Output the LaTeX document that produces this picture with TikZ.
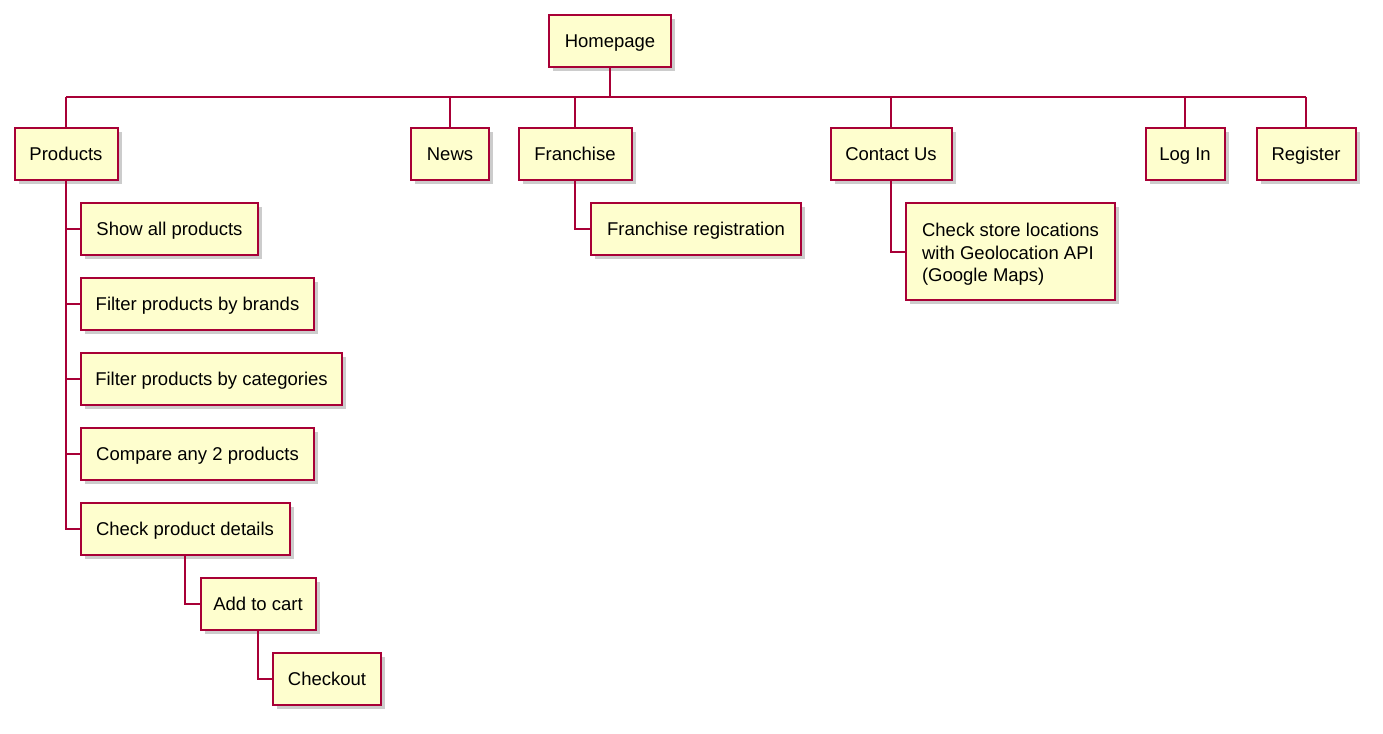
\documentclass[tikz,border=0pt]{standalone}
\usepackage{fontspec}
\setmainfont{Liberation Sans}
\usetikzlibrary{shadows}
\definecolor{boxfill}{HTML}{FEFECE}
\definecolor{boxline}{HTML}{A80036}
\definecolor{shade}{HTML}{9A9A9A}
\begin{document}
\begin{tikzpicture}[x=1pt,y=-1pt,
  wbsbox/.style={draw=boxline, fill=boxfill, line width=2pt, inner sep=0pt,
    minimum height=52pt, text height=17pt, text depth=4pt,
    font=\fontsize{18.5}{22.5}\selectfont,
    drop shadow={shadow xshift=4pt, shadow yshift=-4pt, fill=shade, opacity=0.5}},
  multibox/.style={wbsbox, align=left, text height=, text depth=},
  link/.style={draw=boxline, line width=2pt}]
\useasboundingbox (0,0) rectangle (1383,733);

% top level
\node[wbsbox, minimum width=122pt] (home) at (610,41) {Homepage};

% second level
\node[wbsbox, minimum width=103pt] (products) at (66,154) {Products};
\node[wbsbox, minimum width=78pt]  (news)     at (450,154) {News};
\node[wbsbox, minimum width=113pt] (franch)   at (575,154) {Franchise};
\node[wbsbox, minimum width=121pt] (contact)  at (891,154) {Contact Us};
\node[wbsbox, minimum width=79pt]  (login)    at (1185,154) {Log In};
\node[wbsbox, minimum width=99pt]  (register) at (1306,154) {Register};

% products branch
\node[wbsbox, minimum width=177pt] (showall)  at (169.5,229) {Show all products};
\node[wbsbox, minimum width=233pt] (brands)   at (197.5,304) {Filter products by brands};
\node[wbsbox, minimum width=261pt] (cats)     at (211.5,379) {Filter products by categories};
\node[wbsbox, minimum width=233pt] (compare)  at (197.5,454) {Compare any 2 products};
\node[wbsbox, minimum width=209pt] (details)  at (185,529) {Check product details};
\node[wbsbox, minimum width=115pt] (cart)     at (258,604) {Add to cart};
\node[wbsbox, minimum width=108pt] (checkout) at (327,679) {Checkout};

% franchise and contact branches
\node[wbsbox, minimum width=210pt] (freg)     at (696,229) {Franchise registration};
\node[multibox, minimum width=209pt, minimum height=97pt] (stores) at (1010.5,251.5)
  {\rule{0pt}{19.5pt}Check store locations\\with Geolocation API\\(Google Maps)};

% bus under the root
\coordinate (bus) at (0,97);
\path[link] (home.south) -- (home |- bus);
\path[link] (bus -| products) -- (bus -| register);
\foreach \n in {products,news,franch,contact,login,register}
  \path[link] (bus -| \n) -- (\n.north);

% child connectors
\foreach \n in {showall,brands,cats,compare,details}
  \path[link] (products.south) |- (\n.west);
\path[link] (details.south) |- (cart.west);
\path[link] (cart.south) |- (checkout.west);
\path[link] (franch.south) |- (freg.west);
\path[link] (contact.south) |- (stores.west);
\end{tikzpicture}
\end{document}
